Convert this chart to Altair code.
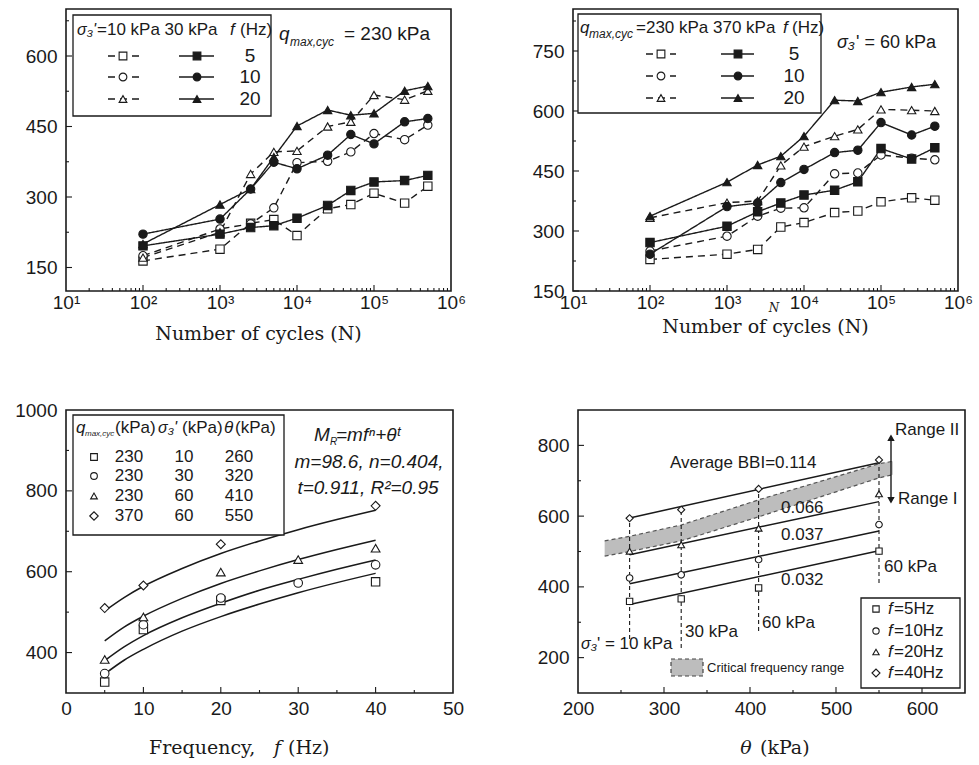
import altair as alt
import pandas as pd

SANS = "Liberation Sans"
SERIF = "DejaVu Serif"
INK = "#1a1a1a"

# ---------------- data: panel 1 (q_max,cyc = 230 kPa) ----------------
N_cycles = [100, 1000, 2500, 5000, 10000, 25000, 50000, 100000, 250000, 500000]
p1_s10_f5 = [164, 189, 244, 252, 218, 275, 284, 308, 287, 323]
p1_s10_f10 = [175, 232, 243, 277, 373, 376, 396, 435, 422, 453]
p1_s10_f20 = [171, 225, 349, 396, 398, 450, 460, 517, 507, 526]
p1_s30_f5 = [196, 221, 235, 239, 255, 282, 314, 332, 335, 346]
p1_s30_f10 = [221, 253, 317, 374, 360, 389, 433, 413, 460, 467]
p1_s30_f20 = [200, 284, 317, 385, 451, 485, 474, 478, 526, 536]

# ---------------- data: panel 2 (sigma3' = 60 kPa) ----------------
p2_q230_f5 = [229, 242, 254, 310, 321, 346, 350, 373, 383, 377]
p2_q230_f10 = [250, 287, 337, 357, 358, 443, 445, 490, 482, 478]
p2_q230_f20 = [333, 371, 375, 464, 511, 537, 554, 604, 602, 600]
p2_q370_f5 = [271, 312, 348, 370, 390, 402, 423, 506, 480, 508]
p2_q370_f10 = [242, 361, 370, 421, 454, 496, 502, 571, 540, 562]
p2_q370_f20 = [337, 422, 465, 487, 537, 627, 625, 647, 660, 667]

# ---------------- data: panel 3 (M_R vs frequency) ----------------
freq_260 = [5, 10, 20, 40]
mr_260 = [327, 457, 529, 575]
freq_320 = [5, 10, 20, 30, 40]
mr_320 = [348, 469, 535, 572, 617]
freq_410 = [5, 10, 20, 30, 40]
mr_410 = [383, 488, 599, 630, 658]
freq_550 = [5, 10, 20, 40]
mr_550 = [510, 566, 668, 763]
freq_fit = [5, 7.5, 10, 15, 20, 25, 30, 35, 40]
fit_260 = [347, 381, 408, 453, 489, 520, 548, 573, 596]
fit_320 = [380, 414, 442, 486, 522, 554, 581, 606, 629]
fit_410 = [429, 463, 490, 534, 571, 602, 630, 655, 678]
fit_550 = [503, 536, 564, 608, 645, 676, 704, 729, 752]

# ---------------- data: panel 4 (M_R vs theta) ----------------
theta = [260, 320, 410, 550]
mr_f5 = [359, 366, 397, 501]
mr_f10 = [425, 434, 477, 576]
mr_f20 = [501, 519, 566, 663]
mr_f40 = [594, 618, 677, 759]
theta_fit = [260, 550]
lin_f5 = [350, 502]
lin_f10 = [409, 558]
lin_f20 = [491, 641]
lin_f40 = [595, 751]
band_theta = [231, 260, 320, 410, 550, 566]
band_upper = [530, 543, 575, 646, 748, 755]
band_lower = [487, 500, 530, 598, 708, 717]
vline_theta = [260, 320, 410, 550]
vline_top = [594, 618, 677, 759]
vline_bottom = [253, 227, 275, 411]

ONE = alt.Data(values=[{}])


def T(text, x, y, size=17, align="left", font=SANS, style="normal", baseline="middle"):
    return alt.Chart(ONE).mark_text(
        text=text, font=font, fontSize=size, fontStyle=style, align=align,
        baseline=baseline, color=INK
    ).encode(x=alt.value(x), y=alt.value(y))


def M(shape, x, y, fill="white", size=50):
    if shape == "diamond":
        size = size * 1.6
    return alt.Chart(ONE).mark_point(
        shape=shape, filled=True, fill=fill, stroke=INK, strokeWidth=1.1, size=size, opacity=1
    ).encode(x=alt.value(x), y=alt.value(y))


def R(x1, x2, y1, y2, dash=None, width=1.4):
    kw = dict(color=INK, strokeWidth=width)
    if dash:
        kw["strokeDash"] = dash
    return alt.Chart(ONE).mark_rule(**kw).encode(
        x=alt.value(x1), x2=alt.value(x2), y=alt.value(y1), y2=alt.value(y2))


def BOX(x1, x2, y1, y2, fill="white", dash=None, stroke=INK, width=1.3):
    kw = dict(fill=fill, stroke=stroke, strokeWidth=width)
    if dash:
        kw["strokeDash"] = dash
    return alt.Chart(ONE).mark_rect(**kw).encode(
        x=alt.value(x1), x2=alt.value(x2), y=alt.value(y1), y2=alt.value(y2))


def ticks(xs, ys, xmaj, xmin, ymaj, ymin, H):
    out = []
    for vals, ln in ((xmaj, 6), (xmin, 3)):
        out.append(alt.Chart(pd.DataFrame({"x": vals})).mark_rule(color=INK, strokeWidth=1.1).encode(
            x=alt.X("x:Q", scale=xs), y=alt.value(H), y2=alt.value(H - ln)))
    for vals, ln in ((ymaj, 6), (ymin, 3)):
        out.append(alt.Chart(pd.DataFrame({"y": vals})).mark_rule(color=INK, strokeWidth=1.1).encode(
            y=alt.Y("y:Q", scale=ys), x=alt.value(0), x2=alt.value(ln)))
    return out


def long_df(x, series):
    rows = []
    for (grp, f), vals in series.items():
        for xi, v in zip(x, vals):
            rows.append({"x": xi, "y": v, "grp": grp, "f": f, "key": grp + "-" + f})
    return pd.DataFrame(rows)


SUP = ("datum.value == 10 ? '10\u00b9' : datum.value == 100 ? '10\u00b2' : "
       "datum.value == 1000 ? '10\u00b3' : datum.value == 10000 ? '10\u2074' : "
       "datum.value == 100000 ? '10\u2075' : '10\u2076'")


def ncycle_panel(df, groups, ydom, ymaj, W, H):
    xs = alt.Scale(type="log", domain=[10, 1e6])
    ys = alt.Scale(domain=ydom, nice=False, zero=False)
    xax = alt.Axis(values=[10, 100, 1000, 10000, 100000, 1000000], labelExpr=SUP, ticks=False,
                   domain=False, grid=False, title=None, labelFontSize=19, labelPadding=2,
                   labelFlush=False, labelOverlap=False)
    yax = alt.Axis(values=ymaj, ticks=False, domain=False, grid=False, title=None, format="d",
                   labelFontSize=19, labelPadding=9, minExtent=60, labelOverlap=False)
    base = alt.Chart(df)
    lines = base.mark_line(color=INK, strokeWidth=1.4).encode(
        x=alt.X("x:Q", scale=xs, axis=xax),
        y=alt.Y("y:Q", scale=ys, axis=yax),
        detail="key:N",
        strokeDash=alt.StrokeDash("grp:N", scale=alt.Scale(domain=groups, range=[[7, 5], [1, 0]]), legend=None),
    )
    pts = base.mark_point(filled=True, stroke=INK, strokeWidth=1.1, size=70, opacity=1).encode(
        x=alt.X("x:Q", scale=xs),
        y=alt.Y("y:Q", scale=ys),
        shape=alt.Shape("f:N", scale=alt.Scale(domain=["5", "10", "20"],
                                               range=["square", "circle", "triangle-up"]), legend=None),
        fill=alt.Fill("grp:N", scale=alt.Scale(domain=groups, range=["white", INK]), legend=None),
    )
    xmaj = [100, 1000, 10000, 100000]
    xmin = [m * 10 ** k for k in range(1, 6) for m in range(2, 10)]
    step = ymaj[1] - ymaj[0]
    ymin = [v + step / 2 for v in ymaj if v + step / 2 < ydom[1]]
    return [lines, pts] + ticks(xs, ys, xmaj, xmin, ymaj, ymin, H)


# ---------------- panel 1 ----------------
W1, H1 = 385, 282
df1 = long_df(N_cycles, {("10", "5"): p1_s10_f5, ("10", "10"): p1_s10_f10, ("10", "20"): p1_s10_f20,
                         ("30", "5"): p1_s30_f5, ("30", "10"): p1_s30_f10, ("30", "20"): p1_s30_f20})
L1 = ncycle_panel(df1, ["10", "30"], [100, 700], [150, 300, 450, 600], W1, H1)
leg1 = [BOX(7, 205, 6, 107),
        T("\u03c3\u2083'", 11, 21, size=16, style="italic"),
        T("=10 kPa 30 kPa", 31, 21, size=17),
        T("f", 164, 21, size=17, style="italic"),
        T("(Hz)", 174, 21, size=17)]
for i, (shp, lab) in enumerate([("square", "5"), ("circle", "10"), ("triangle-up", "20")]):
    yy = [47, 68, 90][i]
    leg1 += [R(42, 73, yy, yy, dash=[7, 5]), M(shp, 57, yy, "white", 60),
             R(113, 148, yy, yy), M(shp, 131, yy, INK, 60),
             T(lab, 184, yy, size=19, align="center")]
ann1 = [T("q", 213, 25, size=19, style="italic"),
        T("max,cyc", 224, 33, size=12, style="italic"),
        T("= 230 kPa", 278, 25, size=19),
        T("Number of cycles (N)", W1 / 2, H1 + 43, size=19, font=SERIF, align="center")]
panel1 = alt.layer(*(L1 + leg1 + ann1)).properties(width=W1, height=H1)

# ---------------- panel 2 ----------------
W2, H2 = 385, 282
df2 = long_df(N_cycles, {("230", "5"): p2_q230_f5, ("230", "10"): p2_q230_f10, ("230", "20"): p2_q230_f20,
                         ("370", "5"): p2_q370_f5, ("370", "10"): p2_q370_f10, ("370", "20"): p2_q370_f20})
L2 = ncycle_panel(df2, ["230", "370"], [150, 855], [150, 300, 450, 600, 750], W2, H2)
leg2 = [BOX(5, 248, 5, 104),
        T("q", 7, 19, size=17, style="italic"),
        T("max,cyc", 16, 25, size=12, style="italic"),
        T("=230 kPa 370 kPa", 63, 19, size=17),
        T("f", 210, 19, size=17, style="italic"),
        T("(Hz)", 219, 19, size=17)]
for i, (shp, lab) in enumerate([("square", "5"), ("circle", "10"), ("triangle-up", "20")]):
    yy = [45, 67, 89][i]
    leg2 += [R(73, 103, yy, yy, dash=[7, 5]), M(shp, 88, yy, "white", 60),
             R(148, 181, yy, yy), M(shp, 165, yy, INK, 60),
             T(lab, 221, yy, size=19, align="center")]
ann2 = [T("\u03c3\u2083", 264, 34, size=18, style="italic"),
        T("' = 60 kPa", 283, 34, size=18),
        T("Number of cycles (N)", W2 / 2, H2 + 36, size=19, font=SERIF, align="center"),
        T("N", 201, H2 + 17, size=12, font=SERIF, style="italic", align="center")]
panel2 = alt.layer(*(L2 + leg2 + ann2)).properties(width=W2, height=H2)

# ---------------- panel 3 ----------------
W3, H3 = 387, 283
xs3 = alt.Scale(domain=[0, 50], nice=False)
ys3 = alt.Scale(domain=[300, 1000], nice=False, zero=False)
xax3 = alt.Axis(values=[0, 10, 20, 30, 40, 50], ticks=False, domain=False, grid=False, title=None,
                labelFontSize=19, labelPadding=6, labelFlush=False)
yax3 = alt.Axis(values=[400, 600, 800, 1000], ticks=False, domain=False, grid=False, title=None,
                format="d", labelFontSize=19, labelPadding=9, minExtent=60)
fit3 = pd.DataFrame({"x": freq_fit * 4,
                     "y": fit_260 + fit_320 + fit_410 + fit_550,
                     "k": ["260"] * 9 + ["320"] * 9 + ["410"] * 9 + ["550"] * 9})
pts3 = pd.DataFrame({"x": freq_260 + freq_320 + freq_410 + freq_550,
                     "y": mr_260 + mr_320 + mr_410 + mr_550,
                     "k": ["t260"] * 4 + ["t320"] * 5 + ["t410"] * 5 + ["t550"] * 4})
dom3 = ["t260", "t320", "t410", "t550"]
shape3 = alt.Scale(domain=dom3, range=["square", "circle", "triangle-up", "diamond"])
size3 = alt.Scale(domain=dom3, range=[70, 80, 80, 130])
L3 = [alt.Chart(fit3).mark_line(color=INK, strokeWidth=1.5, interpolate="monotone").encode(
          x=alt.X("x:Q", scale=xs3, axis=xax3), y=alt.Y("y:Q", scale=ys3, axis=yax3), detail="k:N"),
      alt.Chart(pts3).mark_point(filled=True, fill="white", stroke=INK, strokeWidth=1.1, opacity=1).encode(
          x=alt.X("x:Q", scale=xs3), y=alt.Y("y:Q", scale=ys3),
          shape=alt.Shape("k:N", scale=shape3, legend=None),
          size=alt.Size("k:N", scale=size3, legend=None))]
L3 += ticks(xs3, ys3, [10, 20, 30, 40], [5, 15, 25, 35, 45], [400, 600, 800], [500, 700, 900], H3)
leg3 = [BOX(7, 218, 5, 125),
        T("q", 10, 18, size=17, style="italic"),
        T("max,cyc", 19, 24, size=8, style="italic"),
        T("(kPa)", 49, 18, size=17),
        T("\u03c3\u2083'", 92, 18, size=16, style="italic"),
        T("(kPa)", 116, 18, size=17),
        T("\u03b8", 158, 18, size=17, style="italic"),
        T("(kPa)", 169, 18, size=17)]
rows3 = [("square", "230", "10", "260"), ("circle", "230", "30", "320"),
         ("triangle-up", "230", "60", "410"), ("diamond", "370", "60", "550")]
for i, (shp, a, b, c) in enumerate(rows3):
    yy = [47, 66, 86, 106][i]
    leg3 += [M(shp, 28, yy, "white", size=45), T(a, 63, yy, align="center"),
             T(b, 118, yy, align="center"), T(c, 173, yy, align="center")]
ann3 = [T("M", 248, 25, size=19, style="italic"),
        T("R", 264, 32, size=10, style="italic"),
        T("=mf\u207f+\u03b8\u1d57", 270, 25, size=19, style="italic"),
        T("m=98.6, n=0.404,", 303, 52, size=19, style="italic", align="center"),
        T("t=0.911, R\u00b2=0.95", 302, 78, size=19, style="italic", align="center"),
        T("Frequency,", 83, H3 + 55, size=19, font=SERIF),
        T("f", 208, H3 + 55, size=19, font=SERIF, style="italic"),
        T("(Hz)", 222, H3 + 55, size=19, font=SERIF)]
panel3 = alt.layer(*(L3 + leg3 + ann3)).properties(width=W3, height=H3)

# ---------------- panel 4 ----------------
W4, H4 = 387, 283
xs4 = alt.Scale(domain=[200, 650], nice=False, zero=False)
ys4 = alt.Scale(domain=[100, 900], nice=False, zero=False)
xax4 = alt.Axis(values=[200, 300, 400, 500, 600], ticks=False, domain=False, grid=False, title=None,
                labelFontSize=19, labelPadding=6, labelFlush=False)
yax4 = alt.Axis(values=[200, 400, 600, 800], ticks=False, domain=False, grid=False, title=None,
                format="d", labelFontSize=19, labelPadding=9, minExtent=60)
band = pd.DataFrame({"x": band_theta, "y": band_lower, "y2": band_upper})
band_edges = pd.DataFrame({"x": band_theta * 2, "y": band_upper + band_lower,
                           "k": ["u"] * len(band_theta) + ["l"] * len(band_theta)})
vl = pd.DataFrame({"x": vline_theta, "y": vline_bottom, "y2": vline_top})
lin4 = pd.DataFrame({"x": theta_fit * 4, "y": lin_f5 + lin_f10 + lin_f20 + lin_f40,
                     "k": ["5"] * 2 + ["10"] * 2 + ["20"] * 2 + ["40"] * 2})
pts4 = pd.DataFrame({"x": theta * 4, "y": mr_f5 + mr_f10 + mr_f20 + mr_f40,
                     "k": ["h5"] * 4 + ["h10"] * 4 + ["h20"] * 4 + ["h40"] * 4})
dom4 = ["h5", "h10", "h20", "h40"]
shape4 = alt.Scale(domain=dom4, range=["square", "circle", "triangle-up", "diamond"])
size4 = alt.Scale(domain=dom4, range=[40, 50, 50, 75])
L4 = [alt.Chart(band).mark_area(color="#bdbdbd", opacity=1).encode(
          x=alt.X("x:Q", scale=xs4, axis=xax4), y=alt.Y("y:Q", scale=ys4, axis=yax4), y2="y2:Q"),
      alt.Chart(band_edges).mark_line(color="#555555", strokeWidth=1.2, strokeDash=[4, 3]).encode(
          x=alt.X("x:Q", scale=xs4), y=alt.Y("y:Q", scale=ys4), detail="k:N"),
      alt.Chart(vl).mark_rule(color=INK, strokeWidth=1.1, strokeDash=[4, 3]).encode(
          x=alt.X("x:Q", scale=xs4), y=alt.Y("y:Q", scale=ys4), y2="y2:Q"),
      alt.Chart(lin4).mark_line(color=INK, strokeWidth=1.5).encode(
          x=alt.X("x:Q", scale=xs4), y=alt.Y("y:Q", scale=ys4), detail="k:N"),
      alt.Chart(pts4).mark_point(filled=True, fill="white", stroke=INK, strokeWidth=1.1, opacity=1).encode(
          x=alt.X("x:Q", scale=xs4), y=alt.Y("y:Q", scale=ys4),
          shape=alt.Shape("k:N", scale=shape4, legend=None),
          size=alt.Size("k:N", scale=size4, legend=None))]
L4 += ticks(xs4, ys4, [300, 400, 500, 600], [250, 350, 450, 550], [200, 400, 600, 800], [300, 500, 700], H4)
ann4 = [T("Average BBI=0.114", 92, 53),
        T("0.066", 203, 98), T("0.037", 203, 125), T("0.032", 203, 170),
        T("60 kPa", 306, 157), T("60 kPa", 184, 213), T("30 kPa", 107, 222),
        T("\u03c3\u2083", 3, 234, size=16, style="italic"), T("' = 10 kPa", 19, 234),
        R(313, 313, 28, 90, width=1.4),
        M("triangle-up", 313, 28, INK, size=30), M("triangle-down", 313, 90, INK, size=30),
        T("Range II", 317, 20), T("Range I", 320, 89),
        BOX(93, 125, 249, 266, fill="#bdbdbd", dash=[4, 3], stroke="#444444", width=1.2),
        T("Critical frequency range", 129, 258, size=13),
        BOX(283, 382, 188, 278)]
for i, (shp, lab) in enumerate([("square", "=5Hz"), ("circle", "=10Hz"),
                                ("triangle-up", "=20Hz"), ("diamond", "=40Hz")]):
    yy = [199, 221, 242, 263][i]
    ann4 += [M(shp, 298, yy, "white", size=40), T("f", 310, yy, style="italic"), T(lab, 316, yy)]
ann4 += [T("\u03b8", 168, H4 + 55, size=19, font=SERIF, style="italic", align="center"),
         T("(kPa)", 182, H4 + 55, size=19, font=SERIF)]
panel4 = alt.layer(*(L4 + ann4)).properties(width=W4, height=H4)

IND = dict(shape="independent", fill="independent", strokeDash="independent", size="independent")
top = alt.hconcat(panel1, panel2, spacing=122, bounds="flush").resolve_scale(**IND)
bottom = alt.hconcat(panel3, panel4, spacing=125, bounds="flush").resolve_scale(**IND)
chart = alt.vconcat(top, bottom, spacing=55).resolve_scale(**IND).properties(
    padding={"left": 5, "top": 8, "right": 5, "bottom": 2},
    background="white",
).configure_view(stroke=INK, strokeWidth=1.6).configure_axis(
    labelFont=SANS, labelColor=INK
)

chart.save("out.html", embed_options={"renderer": "svg", "actions": False})
